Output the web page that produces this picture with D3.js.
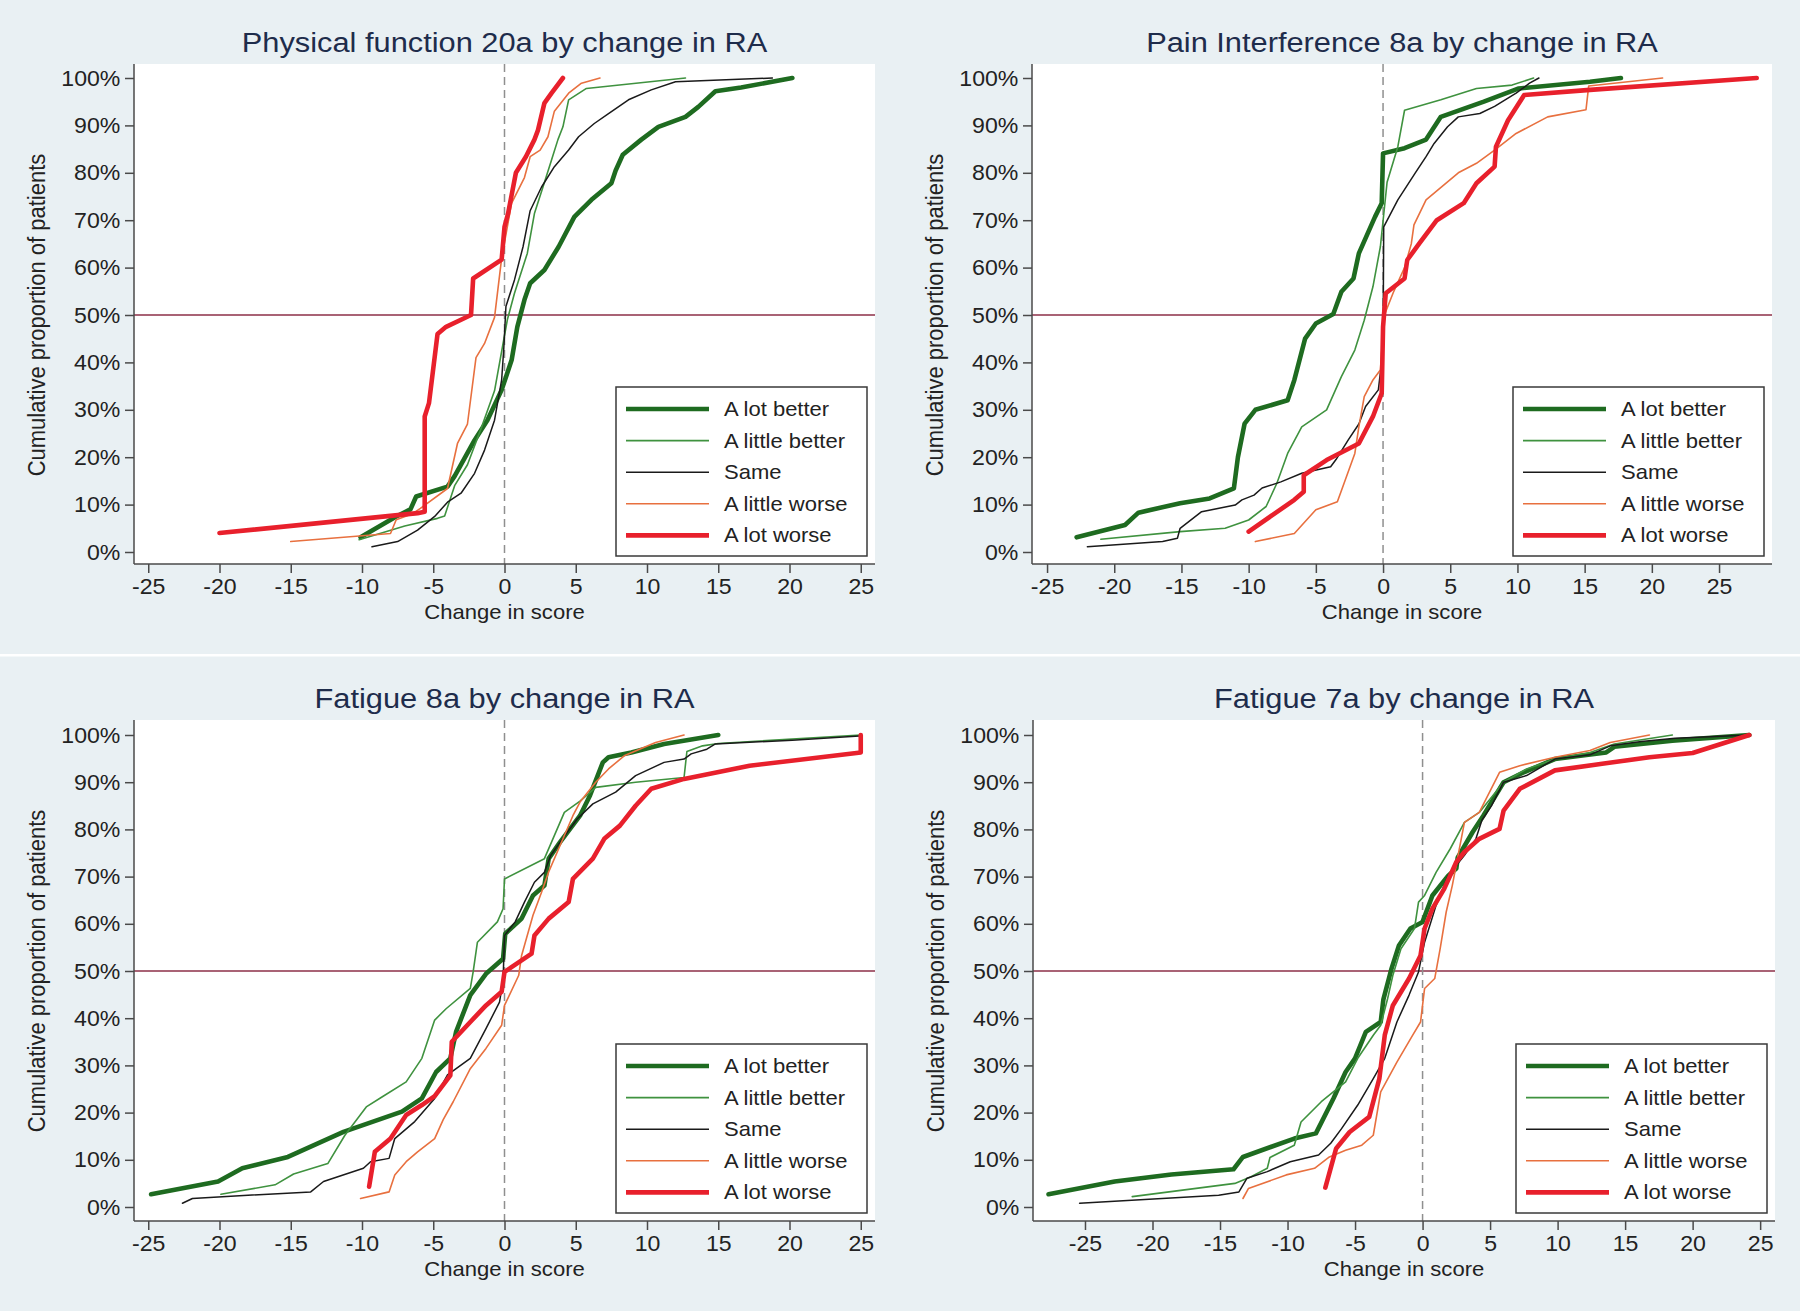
<!DOCTYPE html>
<html><head><meta charset="utf-8">
<script src="https://cdn.jsdelivr.net/npm/d3@7"></script>
<style>body{margin:0;background:#e9f0f3;} svg{display:block}</style>
</head><body>
<svg id="c" width="1800" height="1311"></svg>
<script>
const categories = ["A lot better","A little better","Same","A little worse","A lot worse"];
const titles = ["Physical function 20a by change in RA","Pain Interference 8a by change in RA","Fatigue 8a by change in RA","Fatigue 7a by change in RA"];
const xTicks = [-25,-20,-15,-10,-5,0,5,10,15,20,25];
const yTicks = [0,10,20,30,40,50,60,70,80,90,100];
const xAxisTitle = "Change in score";
const yAxisTitle = "Cumulative proportion of patients";

// Physical function 20a: [change in score, cumulative %]
const pf_lotBetter = [[-10.1,3.1],[-7.6,7.5],[-6.6,9],[-6.2,11.7],[-4.0,13.8],[-3.5,16],[-2.1,23.6],[-1.2,27.8],[-0.2,34.2],[0.5,40.5],[0.9,47.5],[1.4,53.2],[1.8,56.7],[2.8,59.5],[3.8,64.4],[4.9,70.7],[6.1,74.3],[7.5,77.8],[7.8,80.5],[8.3,83.8],[9.6,87],[10.8,89.7],[12.7,91.8],[13.6,93.9],[14.8,97.2],[16.6,98],[20.2,100]];
const pf_littleBetter = [[-10.2,2.6],[-7,5.5],[-4.7,7.1],[-4.2,7.6],[-3.5,14],[-2.6,18.4],[-1.6,26.4],[-0.7,34],[0.2,49],[0.7,54.6],[1.6,63],[2.1,71.4],[2.7,77],[3.3,82.7],[3.75,87],[4.1,89.7],[4.5,95.4],[5.75,97.8],[12.7,100]];
const pf_same = [[-9.3,1.1],[-7.5,2.2],[-6.1,4.6],[-4.9,7.5],[-4.0,10.5],[-3.05,12.4],[-2.1,16.6],[-1.4,21.5],[-0.7,27.8],[-0.2,36.3],[-0.05,43],[0.1,51.8],[0.7,57.4],[1.3,64.4],[1.8,72],[2.6,77],[3.5,81.3],[4.5,84.8],[5.2,87.6],[6.3,90.4],[7.3,92.5],[8.7,95.4],[10.3,97.5],[12,99.2],[18.8,100]];
const pf_littleWorse = [[-15,2.2],[-8,3.9],[-7.6,6.8],[-6.5,8],[-5.9,9.2],[-4,13.4],[-3.3,22.9],[-2.6,27],[-2,41],[-1.4,44],[-0.7,49.5],[-0.2,62],[0.5,73.6],[1.4,79],[1.8,83.4],[2.5,84.8],[3.05,87.6],[3.5,93],[4.5,96.8],[5.4,98.9],[6.7,100]];
const pf_lotWorse = [[-20,4],[-6.1,8.2],[-5.6,8.5],[-5.6,28.6],[-5.3,31.4],[-4.7,46],[-4.1,47.5],[-2.35,50],[-2.2,57.7],[-0.2,61.7],[0,68.6],[0.25,71.4],[0.8,80],[1.5,83.4],[2.1,87],[2.35,89],[2.8,94.7],[3.3,96.8],[4.1,100]];

// Pain Interference 8a
const pi_lotBetter = [[-22.8,3.1],[-19.2,5.7],[-18.2,8.3],[-15.1,10.3],[-12.9,11.3],[-11.1,13.4],[-10.8,20],[-10.3,27.1],[-9.5,30],[-7.1,32],[-6.6,36.3],[-5.8,45],[-5,48.2],[-3.7,50.2],[-3.1,54.9],[-2.2,57.7],[-1.8,63],[-0.6,70.7],[-0.1,73.6],[0,84.1],[1.6,85.2],[3.2,87],[4.3,91.8],[7.5,95],[10.1,97.8],[15.4,99.2],[17.7,100]];
const pi_littleBetter = [[-21,2.7],[-15.1,4.3],[-11.75,5],[-10,6.75],[-8.7,9.6],[-7.9,14.5],[-7.1,20.8],[-6.05,26.4],[-4.2,30],[-3.1,37],[-2.1,42.6],[-1.4,48.9],[-0.75,56],[-0.2,64.4],[0.3,78],[1.1,85.5],[1.6,93.2],[4.3,95.4],[6.95,97.8],[9.6,98.5],[11.2,100]];
const pi_same = [[-22,1.1],[-16.4,2.2],[-15.3,2.9],[-15.1,5],[-13.5,8.5],[-11,9.9],[-10.5,11],[-9.6,12],[-9,13.5],[-7.6,14.8],[-6.05,16.6],[-3.9,18],[-3.5,19.5],[-2.6,23.6],[-1.8,27],[-1.3,30.7],[-0.35,34.2],[0,42.6],[0.05,68.6],[1.1,74.3],[2.4,80],[3.2,83.4],[3.8,86.2],[4.8,89.7],[5.6,91.8],[7.2,92.5],[8.3,94],[9.9,96.8],[10.9,98.9],[11.6,100]];
const pi_littleWorse = [[-9.5,2.2],[-6.6,3.9],[-5,8.9],[-3.4,10.6],[-2.9,14.5],[-2.1,20.8],[-1.8,26.4],[-1.4,32.8],[-0.75,36.3],[-0.2,38.4],[0.1,50],[0.8,55],[1.6,60],[2.1,65],[2.3,69],[3.2,74.3],[5.6,80],[6.95,82],[8.3,84.8],[9.9,88.3],[12.25,91.8],[15.1,93.3],[15.3,98.3],[20.8,100]];
const pi_lotWorse = [[-10,4.3],[-6.6,11],[-5.9,12.7],[-5.9,16.2],[-4.2,19.4],[-1.8,22.9],[-0.75,28.6],[-0.1,33.5],[0,47.5],[0.2,54.6],[1.6,57.7],[1.8,61.6],[2.7,65.1],[4,70],[6,73.6],[6.95,77.8],[8.3,81.3],[8.4,85.5],[9.3,91.1],[10.5,96.4],[15.4,97.5],[27.8,100]];

// Fatigue 8a
const f8_lotBetter = [[-24.8,2.7],[-20.1,5.4],[-18.4,8.2],[-15.2,10.6],[-11.3,15.9],[-7.2,20.2],[-5.8,23],[-4.8,28.6],[-3.8,31.5],[-3.4,37.1],[-2.4,44.9],[-1.3,49.4],[-0.1,52.6],[0.05,57.9],[1.2,61.1],[2,66],[2.8,68.1],[3.1,73.8],[3.9,77.3],[5.3,82.9],[6,87.2],[6.9,94.2],[7.3,95.3],[8.9,96.3],[11.2,98.1],[15,100]];
const f8_littleBetter = [[-19.9,2.7],[-16.1,4.7],[-14.8,7],[-12.4,9.2],[-11.2,15.2],[-9.7,21.2],[-8.6,23.3],[-6.9,26.5],[-5.8,31.5],[-4.9,39.6],[-4.1,42],[-2.4,46.3],[-2.2,49.8],[-1.9,56.1],[-0.5,60.4],[-0.1,63.2],[0,69.5],[2.8,73.8],[4.2,83.6],[5.3,86],[6.4,88.9],[9.2,90],[12.6,91],[12.8,96.5],[13.9,97.7],[15,98.2],[25,100]];
const f8_same = [[-22.6,0.8],[-21.9,1.8],[-18,2.5],[-13.6,3.2],[-12.7,5.4],[-9.9,8.2],[-9.4,9.6],[-8.1,10.3],[-7.7,14.5],[-6.3,18.1],[-4.9,23],[-4,28],[-2.4,31.5],[-1.3,37.8],[-0.35,43.4],[-0.1,48],[0,57.5],[0.75,60.4],[1.4,64.6],[2.1,68.8],[2.8,70.9],[3.25,74.5],[3.9,77.3],[5.1,82.2],[6.2,85.4],[7.8,87.9],[9.2,91.4],[11.2,94.2],[12.6,94.9],[13.1,96],[14.2,97],[14.8,98.1],[20.2,98.9],[24.9,99.8]];
const f8_littleWorse = [[-10.1,1.8],[-8.1,3.2],[-7.7,6.8],[-6.9,9.6],[-6.1,11.7],[-4.9,14.5],[-4.3,18.5],[-3.6,22.3],[-2.4,29.3],[-1.3,33.6],[-0.2,38.5],[0,42.7],[1,49.1],[1.2,53.3],[2,61.8],[2.6,66.7],[3.1,71],[3.9,76.6],[4.8,82.9],[5.3,85.8],[6.4,90],[7.3,92.8],[8.4,95.6],[10.6,98.4],[12.6,100]];
const f8_lotWorse = [[-9.5,4.3],[-9.1,11.7],[-8,14.5],[-6.9,19.5],[-5.8,21.6],[-4.9,23.5],[-3.8,27.9],[-3.7,35],[-2.4,39.2],[-1.3,42.7],[-0.2,45.6],[0,49.8],[1.9,53.7],[2.1,57.5],[3.1,61.1],[4.5,64.6],[4.8,69.5],[6.2,73.8],[7,78],[8.1,80.8],[9.2,85],[10.3,88.6],[12.6,90.7],[17.2,93.5],[25,96.3],[25,100]];

// Fatigue 7a
const f7_lotBetter = [[-27.7,2.7],[-22.8,5.4],[-18.6,6.9],[-14,8],[-13.3,10.6],[-9.5,14.5],[-7.9,15.6],[-6.6,23],[-5.7,28.6],[-5,31.5],[-4.2,37.1],[-3.1,39.2],[-2.9,44],[-2.3,50.5],[-1.75,55.4],[-0.9,59],[0,60.4],[0.73,66],[1.9,70.2],[2.5,71.7],[2.6,74],[3.7,79.4],[4.5,82.9],[6,90],[7.5,92.1],[9.8,94.9],[13.6,96.3],[14.2,97.5],[18.5,98.8],[24.2,100]];
const f7_littleBetter = [[-21.5,2.2],[-13.9,5],[-12.7,6.4],[-11.5,8.2],[-11.3,10.5],[-9.5,13.1],[-9,18],[-7.5,22.3],[-5.7,26.5],[-4.8,31.5],[-3.65,36.4],[-3.1,38.5],[-2.6,44],[-2.2,49.1],[-1.6,54.7],[-0.6,59],[-0.3,64.6],[0.15,66],[1,70.9],[2.05,75.9],[3.1,81.5],[4.2,83.6],[6,90],[7.7,92.8],[9.8,94.9],[12.4,96.3],[14.2,98.1],[18.5,100]];
const f7_same = [[-25.4,0.8],[-15.1,2.5],[-13.6,3.2],[-13,6.1],[-11.5,7.5],[-9.8,9.6],[-7.7,11],[-6.8,13.5],[-6,16.6],[-4.8,21.6],[-3.65,27.2],[-2.8,31.5],[-1.9,39.2],[-1,44.9],[-0.3,49.8],[0.15,56.1],[1,63.9],[1.9,70.2],[3.1,74.5],[3.95,78],[4.4,82],[5.1,85],[6,90],[7.7,91.4],[9.8,94.9],[12.4,95.8],[13.9,97.7],[16.2,98.6],[18.7,99.3],[24.2,100]];
const f7_littleWorse = [[-13.3,1.8],[-12.9,3.9],[-10.1,6.8],[-8,8.2],[-6.9,10.6],[-5.7,12],[-4.5,13.1],[-3.65,15.2],[-3.1,24.4],[-1.9,30.7],[-0.73,36.4],[-0.15,39.2],[0.15,46.3],[0.9,48.4],[1.3,54.7],[1.75,62.5],[2.2,68.1],[3.1,81.5],[4.2,83.6],[5.7,92.1],[7.2,93.5],[9.8,95.3],[12.4,96.7],[13.9,98.4],[16.8,100]];
const f7_lotWorse = [[-7.2,4.1],[-6.4,12.4],[-5.4,15.9],[-3.95,19.1],[-3.2,27.2],[-2.8,36.4],[-2.2,42.7],[-1,48.4],[-0.15,53.3],[0.15,59],[0.73,63.2],[1.6,67.4],[2.5,73.1],[3.1,75.2],[4.2,78],[5.7,80.1],[6,84],[7.2,88.6],[9.8,92.5],[13.3,93.9],[16.8,95.3],[20,96.2],[24.2,100]];

const panelSeries = [
  [pf_lotBetter, pf_littleBetter, pf_same, pf_littleWorse, pf_lotWorse],
  [pi_lotBetter, pi_littleBetter, pi_same, pi_littleWorse, pi_lotWorse],
  [f8_lotBetter, f8_littleBetter, f8_same, f8_littleWorse, f8_lotWorse],
  [f7_lotBetter, f7_littleBetter, f7_same, f7_littleWorse, f7_lotWorse]
];

// ---- styles & layout ----
const seriesStyle = [
  {color:"#1e6b20", width:4.6},
  {color:"#3f923f", width:1.6},
  {color:"#1a1a1a", width:1.5},
  {color:"#e8703f", width:1.6},
  {color:"#e8202c", width:4.6}
];
const panels = [
  {left:134, right:875, top:64, bottom:564, y0:552, y100:78, xmin:-26, xmax:26},
  {left:1032, right:1772, top:64, bottom:564, y0:552, y100:78, xmin:-26.12, xmax:28.94},
  {left:134, right:875, top:720, bottom:1221, y0:1207, y100:735, xmin:-26, xmax:26},
  {left:1033, right:1775, top:720, bottom:1221, y0:1207, y100:735, xmin:-28.85, xmax:26.1}
];
const FONT = "'Liberation Sans', Arial, Helvetica, sans-serif";
const axisColor = "#4a4a4a";

const svg = d3.select("#c");
svg.append("rect").attr("x",0).attr("y",0).attr("width",1800).attr("height",1311).attr("fill","#e9f0f3");
svg.append("rect").attr("x",0).attr("y",654).attr("width",1800).attr("height",2.5).attr("fill","#ffffff");

panels.forEach((p, pi) => {
  const g = svg.append("g");
  const x = d3.scaleLinear().domain([p.xmin, p.xmax]).range([p.left, p.right]);
  const y = d3.scaleLinear().domain([0, 100]).range([p.y0, p.y100]);

  // plot region
  g.append("rect").attr("x", p.left).attr("y", p.top)
    .attr("width", p.right - p.left).attr("height", p.bottom - p.top).attr("fill", "#ffffff");

  // reference lines
  g.append("line").attr("x1", p.left).attr("x2", p.right).attr("y1", y(50)).attr("y2", y(50))
    .attr("stroke", "#8c2f47").attr("stroke-width", 1.5);
  g.append("line").attr("x1", x(0)).attr("x2", x(0)).attr("y1", p.top).attr("y2", p.bottom)
    .attr("stroke", "#8f8f8f").attr("stroke-width", 1.5).attr("stroke-dasharray", "8,5");

  // series
  const line = d3.line().x(d => x(d[0])).y(d => y(d[1]));
  panelSeries[pi].forEach((s, si) => {
    g.append("path").datum(s).attr("d", line).attr("fill", "none")
      .attr("stroke", seriesStyle[si].color).attr("stroke-width", seriesStyle[si].width)
      .attr("stroke-linejoin", "round").attr("stroke-linecap", "round");
  });

  // axes
  const ya = g.append("g").attr("transform", `translate(${p.left},0)`)
    .call(d3.axisLeft(y).tickValues(yTicks).tickFormat(d => d + "%").tickSize(9).tickPadding(4));
  const xa = g.append("g").attr("transform", `translate(0,${p.bottom})`)
    .call(d3.axisBottom(x).tickValues(xTicks).tickFormat(d => d).tickSize(9).tickPadding(5));
  [ya, xa].forEach(a => {
    a.select(".domain").remove();
    a.selectAll(".tick line").attr("stroke", axisColor).attr("stroke-width", 1.5);
    a.selectAll(".tick text").attr("fill", "#222").style("font-family", FONT).style("font-size", "22px")
      .attr("transform", "scale(1.05,1)");
  });
  g.append("line").attr("x1", p.left).attr("x2", p.left).attr("y1", p.top).attr("y2", p.bottom)
    .attr("stroke", axisColor).attr("stroke-width", 1.5);
  g.append("line").attr("x1", p.left).attr("x2", p.right).attr("y1", p.bottom).attr("y2", p.bottom)
    .attr("stroke", axisColor).attr("stroke-width", 1.5);

  // titles
  const cx = (p.left + p.right) / 2;
  g.append("text").attr("transform", `translate(${cx},${p.top - 12}) scale(1.1,1)`)
    .attr("text-anchor", "middle").attr("fill", "#1e2c4b")
    .style("font-family", FONT).style("font-size", "28px").text(titles[pi]);
  g.append("text").attr("transform", `translate(${cx},${p.bottom + 55}) scale(1.05,1)`)
    .attr("text-anchor", "middle").attr("fill", "#222")
    .style("font-family", FONT).style("font-size", "21px").text(xAxisTitle);
  g.append("text").attr("transform", `translate(${p.left - 89},${(p.y0 + p.y100) / 2}) rotate(-90) scale(1,1.1)`)
    .attr("text-anchor", "middle").attr("fill", "#222")
    .style("font-family", FONT).style("font-size", "22px").text(yAxisTitle);

  // legend
  const lw = 251, lh = 169;
  const lx = p.right - 8 - lw, ly = p.bottom - 8 - lh;
  const lg = g.append("g");
  lg.append("rect").attr("x", lx).attr("y", ly).attr("width", lw).attr("height", lh)
    .attr("fill", "#fff").attr("stroke", "#3a3a3a").attr("stroke-width", 1.5);
  categories.forEach((c, i) => {
    const ry = ly + 22 + i * 31.6;
    lg.append("line").attr("x1", lx + 10).attr("x2", lx + 93).attr("y1", ry).attr("y2", ry)
      .attr("stroke", seriesStyle[i].color).attr("stroke-width", seriesStyle[i].width);
    lg.append("text").attr("transform", `translate(${lx + 108},${ry + 7}) scale(1.1,1)`)
      .attr("fill", "#222").style("font-family", FONT).style("font-size", "20px").text(c);
  });
});
</script>
</body></html>
